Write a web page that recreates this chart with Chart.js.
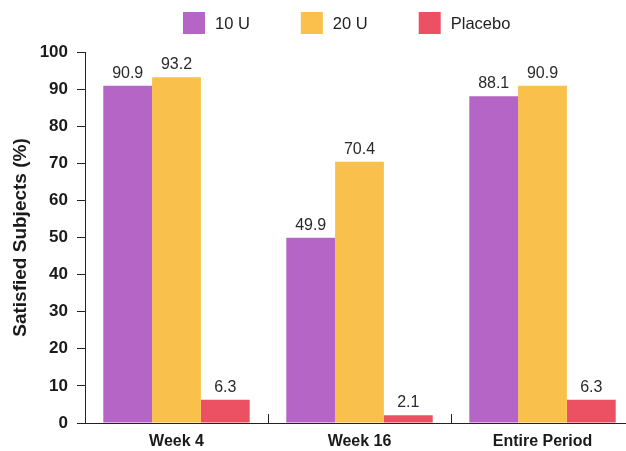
<!DOCTYPE html>
<html>
<head>
<meta charset="utf-8">
<title>Satisfied Subjects</title>
<script src="https://cdn.jsdelivr.net/npm/chart.js@4.4.1/dist/chart.umd.min.js"></script>
<style>
  html, body { margin: 0; padding: 0; background: #fff; overflow: hidden; }
  canvas { display: block; }
</style>
</head>
<body>
<canvas id="satChart" width="634" height="451"></canvas>
<script>
// Data
const periods = ['Week 4', 'Week 16', 'Entire Period'];
const dose10U = [90.9, 49.9, 88.1];
const dose20U = [93.2, 70.4, 90.9];
const placebo = [6.3, 2.1, 6.3];
const seriesNames = ['10 U', '20 U', 'Placebo'];
const seriesColors = ['#b565c6', '#f9c14b', '#ec5063'];

const FONT = "'Liberation Sans', Arial, Helvetica, sans-serif";

// Value printed above every bar
const barValues = {
  id: 'barValues',
  afterDatasetsDraw(chart) {
    const ctx = chart.ctx;
    ctx.save();
    ctx.font = '16px ' + FONT;
    ctx.fillStyle = '#2a2a2a';
    ctx.textAlign = 'center';
    ctx.textBaseline = 'alphabetic';
    chart.data.datasets.forEach((ds, i) => {
      chart.getDatasetMeta(i).data.forEach((bar, j) => {
        ctx.fillText(ds.data[j].toFixed(1), bar.x, bar.y - 8);
      });
    });
    ctx.restore();
  }
};

// Legend row across the top (square swatches)
const topLegend = {
  id: 'topLegend',
  afterDraw(chart) {
    const ctx = chart.ctx;
    ctx.save();
    ctx.font = '16.5px ' + FONT;
    ctx.textBaseline = 'middle';
    ctx.textAlign = 'left';
    let x = 183;
    chart.data.datasets.forEach(ds => {
      ctx.fillStyle = ds.backgroundColor;
      ctx.fillRect(x, 12, 22, 22);
      ctx.fillStyle = '#222';
      ctx.fillText(ds.label, x + 32, 24);
      x += 32 + ctx.measureText(ds.label).width + 51;
    });
    ctx.restore();
  }
};

// Short upward marks between the category groups
const groupTicks = {
  id: 'groupTicks',
  afterDraw(chart) {
    const ctx = chart.ctx;
    const xs = chart.scales.x;
    const bottom = chart.chartArea.bottom;
    ctx.save();
    ctx.strokeStyle = '#222';
    ctx.lineWidth = 1;
    for (let i = 0; i < periods.length - 1; i++) {
      const px = Math.round((xs.getPixelForValue(i) + xs.getPixelForValue(i + 1)) / 2) + 0.5;
      ctx.beginPath();
      ctx.moveTo(px, bottom);
      ctx.lineTo(px, bottom - 9);
      ctx.stroke();
    }
    ctx.restore();
  }
};

const seriesData = [dose10U, dose20U, placebo];

new Chart(document.getElementById('satChart'), {
  type: 'bar',
  data: {
    labels: periods,
    datasets: seriesData.map((vals, i) => ({
      label: seriesNames[i],
      data: vals,
      backgroundColor: seriesColors[i],
      borderWidth: 0,
      categoryPercentage: 0.8,
      barPercentage: 1.0
    }))
  },
  options: {
    responsive: false,
    animation: false,
    layout: { padding: { top: 52, left: 0, right: 0, bottom: 0 } },
    plugins: {
      legend: { display: false },
      tooltip: { enabled: false }
    },
    scales: {
      x: {
        grid: { display: false },
        border: { display: true, color: '#222', width: 1 },
        ticks: {
          color: '#1a1a1a',
          padding: 1,
          font: { family: FONT, size: 16, weight: 'bold' }
        },
        afterFit(scale) { scale.height = 28; }
      },
      y: {
        min: 0,
        max: 100,
        ticks: {
          stepSize: 10,
          color: '#1a1a1a',
          padding: 9,
          font: { family: FONT, size: 17, weight: 'bold' }
        },
        grid: { drawOnChartArea: false, drawTicks: true, tickLength: 8, color: '#222' },
        border: { display: true, color: '#222', width: 1 },
        title: {
          display: true,
          text: 'Satisfied Subjects (%)',
          color: '#1a1a1a',
          padding: { top: 9, bottom: 0 },
          font: { family: FONT, size: 19, weight: 'bold' }
        },
        afterFit(scale) { scale.width = 85; }
      }
    }
  },
  plugins: [barValues, topLegend, groupTicks]
});
</script>
</body>
</html>
